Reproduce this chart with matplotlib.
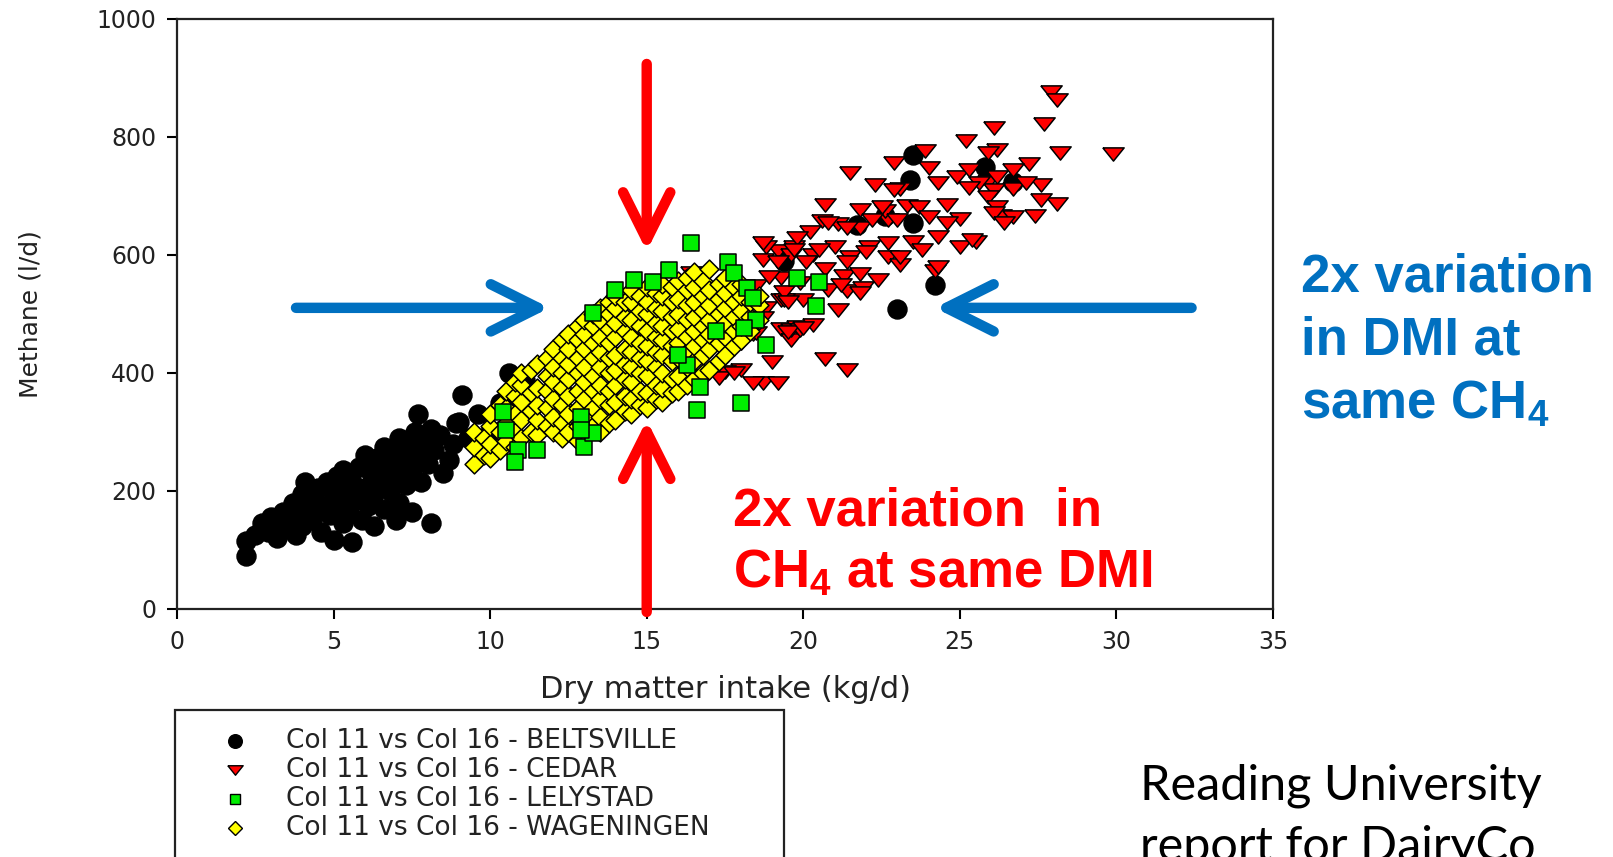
import numpy as np
import matplotlib
matplotlib.use('Agg')
import matplotlib.pyplot as plt
from matplotlib.lines import Line2D
from matplotlib.patches import Rectangle

plt.rcParams['font.family'] = 'DejaVu Sans'
plt.rcParams['mathtext.fontset'] = 'custom'
plt.rcParams['mathtext.rm'] = 'Liberation Sans:bold'
plt.rcParams['mathtext.it'] = 'Liberation Sans:bold'
plt.rcParams['mathtext.bf'] = 'Liberation Sans:bold'

# ---- data (DMI kg/d, methane l/d) ----
beltsville_x = [2.2, 2.2, 2.5, 2.7, 2.9, 3.0, 3.2, 3.3, 3.4, 3.5, 3.6, 3.7, 3.8, 3.9, 4.0, 4.0,
                4.1, 4.2, 4.3, 4.4, 4.5, 4.6, 4.7, 4.8, 4.9, 5.0, 5.0, 5.1, 5.2, 5.3, 5.3, 5.4,
                5.5, 5.6, 5.6, 5.7, 5.8, 5.9, 6.0, 6.0, 6.1, 6.2, 6.3, 6.3, 6.4, 6.5, 6.6, 6.6,
                6.7, 6.8, 6.9, 7.0, 7.0, 7.1, 7.1, 7.2, 7.3, 7.4, 7.5, 7.5, 7.6, 7.7, 7.7, 7.8,
                7.9, 8.0, 8.1, 8.1, 8.2, 8.4, 8.5, 8.7, 8.8, 8.9, 9.0, 9.1, 9.3, 9.6, 10.0, 10.3,
                10.4, 10.6, 11.0, 11.1,
                19.4, 21.7, 22.6, 23.0, 23.4, 23.5, 23.5, 24.2, 25.8, 26.7]
beltsville_y = [90, 115, 125, 145, 130, 155, 120, 145, 165, 135, 150, 180, 125, 160, 195, 140,
                215, 170, 150, 185, 205, 130, 175, 215, 160, 195, 117, 225, 180, 145, 235, 200,
                165, 113, 215, 185, 240, 150, 205, 260, 175, 230, 195, 140, 255, 215, 275, 170,
                240, 200, 265, 225, 150, 180, 290, 250, 210, 275, 235, 165, 300, 260, 331, 215,
                285, 245, 145, 305, 270, 295, 230, 252, 280, 315, 317, 362, 290, 330, 300, 349,
                350, 400, 355, 388,
                590, 650, 665, 508, 727, 653, 768, 549, 749, 723]

cedar_x = [27.9, 28.1, 27.7, 29.9, 28.2, 26.1, 25.2, 23.9, 21.5, 23.1, 22.3, 20.7, 24.3, 25.9,
           26.7, 27.2, 27.6, 28.1, 27.4, 26.3, 25.0, 25.5, 25.0, 24.2, 23.3, 22.7, 23.5, 22.6,
           21.8, 21.1, 20.6, 20.2, 19.7, 19.2, 18.8, 20.3, 21.0, 21.5, 22.1, 22.7, 23.1, 21.3,
           20.7, 19.9, 19.3, 18.5, 19.3, 20.0, 20.8, 21.4, 21.9, 22.4, 18.8, 19.3, 19.8, 20.3,
           19.6, 18.4, 17.8, 17.4, 18.0, 17.5, 18.7, 19.2, 17.3, 16.9, 20.7, 21.4, 16.7, 18.7,
           22.9, 24.0, 22.9, 24.9, 25.3, 21.8, 22.5, 23.7, 24.6, 20.8, 21.4, 22.2, 23.0, 24.0,
           24.6, 19.8, 25.4, 20.5, 22.0, 22.7, 24.3, 19.6, 23.8, 23.1, 21.4, 20.1, 24.3,
           26.2, 25.9, 26.2, 26.7, 27.1, 25.6, 25.3, 26.1, 25.9, 27.6, 26.2, 26.1, 26.7, 26.4,
           21.8, 21.8, 21.2, 21.1, 19.6, 19.9, 19.4,
           19.0, 18.4, 17.8, 18.7, 18.5, 18.0, 19.5, 20.0, 16.4, 18.7, 19.2, 19.7, 19.4, 19.5, 18.9]
cedar_y = [876, 862, 822, 770, 773, 815, 793, 775, 739, 712, 718, 685, 721, 723,
           712, 753, 718, 686, 666, 666, 660, 622, 613, 573, 683, 659, 622, 674,
           645, 652, 657, 639, 613, 606, 613, 599, 613, 596, 613, 596, 582, 564,
           575, 552, 561, 547, 523, 523, 540, 538, 544, 557, 509, 474, 477, 481,
           456, 465, 448, 474, 404, 402, 383, 383, 392, 395, 423, 404, 503, 591,
           755, 747, 710, 732, 743, 676, 681, 681, 684, 654, 645, 659, 659, 664,
           654, 628, 625, 608, 605, 620, 630, 600, 608, 596, 588, 588, 579,
           777, 772, 732, 743, 721, 721, 713, 710, 698, 693, 681, 670, 664, 654,
           568, 535, 549, 506, 472, 472, 523,
           418, 383, 400, 493, 467, 450, 469, 476, 569, 620, 588, 608, 537, 520, 562]

lelystad_x = [16.4, 14.6, 15.2, 15.7, 17.6, 17.8, 18.2, 19.8, 20.5, 20.4, 18.4, 18.5, 18.1,
              18.8, 16.7, 16.6, 18.0, 16.3, 13.3, 10.4, 10.9, 11.5, 10.8, 12.9, 13.0, 13.3,
              10.5, 12.9, 14.0, 17.2, 16.0]
lelystad_y = [620, 557, 554, 574, 588, 569, 544, 560, 554, 513, 527, 489, 476,
              447, 376, 337, 349, 413, 501, 334, 269, 269, 249, 325, 275, 298,
              303, 303, 540, 470, 430]

# Wageningen: one list of methane values per DMI column
wageningen_x = [9.5, 9.8, 10.0, 10.3, 10.5, 10.8, 11.0, 11.3, 11.5, 11.8, 12.0, 12.3, 12.5,
                12.8, 13.0, 13.3, 13.5, 13.8, 14.0, 14.3, 14.5, 14.8, 15.0, 15.3, 15.5, 15.8,
                16.0, 16.3, 16.5, 16.8, 17.0, 17.3, 17.5, 17.8, 18.0, 18.3, 18.6]
wageningen_y = [
    [245, 275, 300],
    [260, 290],
    [255, 280, 310, 330],
    [270, 300, 345],
    [285, 315, 340, 370],
    [275, 300, 330, 360, 385],
    [290, 320, 350, 380, 400],
    [300, 335, 365, 405],
    [295, 320, 345, 375, 415],
    [310, 340, 370, 395, 425],
    [300, 325, 355, 385, 410, 440],
    [290, 315, 345, 375, 400, 425, 455],
    [300, 330, 360, 390, 415, 440, 465],
    [285, 310, 340, 370, 400, 425, 455, 480],
    [300, 325, 355, 385, 410, 440, 465, 490],
    [310, 340, 370, 395, 425, 450, 480, 500],
    [300, 325, 355, 380, 410, 435, 460, 490, 510],
    [315, 345, 370, 400, 425, 450, 475, 500, 520],
    [320, 350, 380, 405, 430, 460, 485, 510, 530],
    [335, 360, 390, 415, 440, 470, 495, 520],
    [330, 355, 385, 410, 435, 460, 490, 520, 540],
    [345, 370, 400, 425, 450, 480, 505, 530],
    [340, 365, 395, 420, 445, 470, 500, 520, 545],
    [355, 380, 410, 435, 460, 485, 510, 535],
    [350, 375, 400, 430, 455, 480, 505, 530, 550],
    [365, 390, 420, 445, 470, 495, 520, 545],
    [370, 395, 425, 450, 475, 500, 525, 555],
    [380, 410, 435, 460, 490, 515, 540, 560],
    [390, 420, 445, 470, 495, 520, 545, 570],
    [400, 430, 455, 480, 505, 530, 555],
    [405, 440, 465, 490, 515, 540, 575],
    [420, 450, 475, 500, 525, 550],
    [430, 460, 485, 510, 535, 560],
    [445, 470, 495, 520, 545],
    [455, 480, 505, 530, 550],
    [470, 495, 520],
    [490, 515, 530],
]

labels = ['Col 11 vs Col 16 - BELTSVILLE', 'Col 11 vs Col 16 - CEDAR',
          'Col 11 vs Col 16 - WAGENINGEN', 'Col 11 vs Col 16 - LELYSTAD']

wag_x = np.repeat(wageningen_x, [len(c) for c in wageningen_y])
wag_y = np.concatenate([np.array(c, dtype=float) for c in wageningen_y])

tri = [(-1, 0.62), (1, 0.62), (0, -0.62), (-1, 0.62)]

# (x, y, marker, face, size) in drawing order, same order as labels
series = [
    (beltsville_x, beltsville_y, 'o', 'black', 185),
    (cedar_x, cedar_y, tri, '#FF0000', 235),
    (wag_x, wag_y, 'D', '#FFFF00', 92),
    (lelystad_x, lelystad_y, 's', '#00EE00', 120),
]
legend_order = [0, 1, 3, 2]

W, H = 1613, 857
fig = plt.figure(figsize=(W / 100, H / 100), dpi=100)
ax = fig.add_axes([177 / W, 1 - 609 / H, (1273 - 177) / W, (609 - 18.5) / H])

for x, y, m, fc, s in series:
    ax.scatter(x, y, marker=m, s=s, c=fc, edgecolors='black', linewidths=1.1)

ax.set_xlim(0, 35)
ax.set_ylim(0, 1000)
ax.set_xticks(range(0, 36, 5))
ax.set_yticks(range(0, 1001, 200))
ax.tick_params(direction='out', length=7, width=1.5, labelsize=17, pad=8,
               labelcolor='#222222')
for sp in ax.spines.values():
    sp.set_linewidth(1.6)
    sp.set_color('#222222')
ax.set_xlabel('Dry matter intake (kg/d)', fontsize=22, color='#222222', va='center')
ax.set_ylabel('Methane (l/d)', fontsize=18, color='#222222', va='center')
ax.xaxis.set_label_coords(0.5, (609 - 689) / 590.5)
ax.yaxis.set_label_coords((31 - 177) / 1096, 0.5)

# arrows
red = '#FF0000'
blue = '#0070C0'
def arrow(x0, y0, x1, y1, col):
    ax.annotate('', xy=(x1, y1), xytext=(x0, y0), annotation_clip=False,
                arrowprops=dict(arrowstyle='->,head_length=1.7,head_width=0.85',
                                lw=7.5, color=col, shrinkA=0, shrinkB=0,
                                mutation_scale=20, capstyle='round',
                                joinstyle='round'))

arrow(15, 923, 15, 606, red)
arrow(15, -5, 15, 320, red)
arrow(3.8, 510, 11.9, 510, blue)
arrow(32.4, 510, 24.2, 510, blue)

# text boxes
bold = dict(family='Liberation Sans', fontweight='bold', fontsize=38)
for i, line in enumerate(['2x variation  in', 'CH$_4$ at same DMI']):
    fig.text(733 / W, 1 - (526 + 62 * i) / H, line, color=red, va='baseline', **bold)
for i, line in enumerate(['2x variation', 'in DMI at', 'same CH$_4$']):
    fig.text(1301 / W, 1 - (291 + 64 * i) / H, line, color=blue, va='baseline', **bold)
for i, line in enumerate(['Reading University', 'report for DairyCo']):
    fig.text(1140 / W, 1 - (799 + 62 * i) / H, line, color='black', va='baseline',
             family='Lato', fontsize=35)

# legend box (runs off the bottom of the slide)
fig.add_artist(Rectangle((175 / W, -0.05), (784 - 175) / W, (857 - 710) / H + 0.05,
                         transform=fig.transFigure, fill=False, lw=1.6, edgecolor='#222222'))
for row, k in enumerate(legend_order):
    x, y, m, fc, s = series[k]
    yy = 1 - (741 + 29 * row) / H
    fig.add_artist(Line2D([234.5 / W], [yy], transform=fig.transFigure, marker=m,
                          markersize=np.sqrt(s) * 0.72, markerfacecolor=fc,
                          markeredgecolor='black', linestyle='none'))
    fig.text(286 / W, yy, labels[k], fontsize=19, color='#222222', va='center')

fig.savefig('out.png', dpi=100)
